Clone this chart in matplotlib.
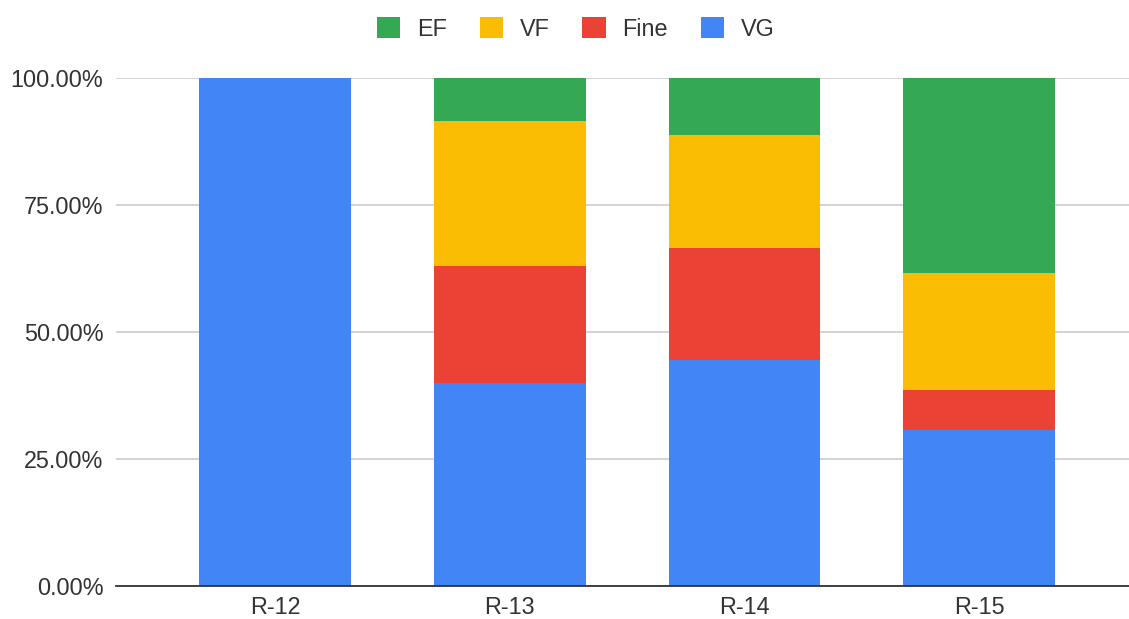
import numpy as np
import matplotlib.pyplot as plt
from matplotlib.ticker import PercentFormatter

plt.rcParams['font.family'] = ['Liberation Sans', 'DejaVu Sans']

# data (share of each grade per group)
groups = ['R-12', 'R-13', 'R-14', 'R-15']
vg = [1.000, 0.400, 0.444, 0.308]
fine = [0.000, 0.229, 0.222, 0.077]
vf = [0.000, 0.286, 0.222, 0.231]
ef = [0.000, 0.085, 0.112, 0.384]

colors = {'VG': '#4285F4', 'Fine': '#EA4335', 'VF': '#FBBC04', 'EF': '#34A853'}

fig = plt.figure(figsize=(11.29, 6.19), dpi=100)
ax = fig.add_axes([116/1129, 33/619, 1 - 116/1129, (586-78)/619])

x = np.arange(len(groups))
w = 0.647
bottom = np.zeros(len(groups))
bars = {}
for name, vals in [('VG', vg), ('Fine', fine), ('VF', vf), ('EF', ef)]:
    bars[name] = ax.bar(x, vals, w, bottom=bottom, color=colors[name],
                        label=name, zorder=3, linewidth=0)
    bottom += np.array(vals)

ax.set_xlim(-0.677, 3.638)
ax.set_ylim(0, 1)
ax.set_yticks([0, 0.25, 0.5, 0.75, 1.0])
ax.yaxis.set_major_formatter(PercentFormatter(1.0, decimals=2))
ax.set_xticks(x)
ax.set_xticklabels(groups)
ax.grid(axis='y', color='#cccccc', linewidth=1.2, zorder=0)
ax.tick_params(axis='both', length=0, labelsize=16.8, labelcolor='#333333')
ax.tick_params(axis='x', pad=7)
ax.tick_params(axis='y', pad=9)
for s in ['top', 'right', 'left']:
    ax.spines[s].set_visible(False)
ax.spines['bottom'].set_color('#333333')
ax.spines['bottom'].set_linewidth(1.3)
ax.spines['bottom'].set_zorder(4)

handles = [bars[n] for n in ['EF', 'VF', 'Fine', 'VG']]
fig.legend(handles, ['EF', 'VF', 'Fine', 'VG'], loc='center',
           bbox_to_anchor=(0.51, 1 - 29/619), ncol=4, frameon=False,
           fontsize=16.8, handlelength=1.0, handleheight=1.0,
           handletextpad=0.72, columnspacing=1.4, labelcolor='#333333')

fig.savefig('out.png', dpi=100)
